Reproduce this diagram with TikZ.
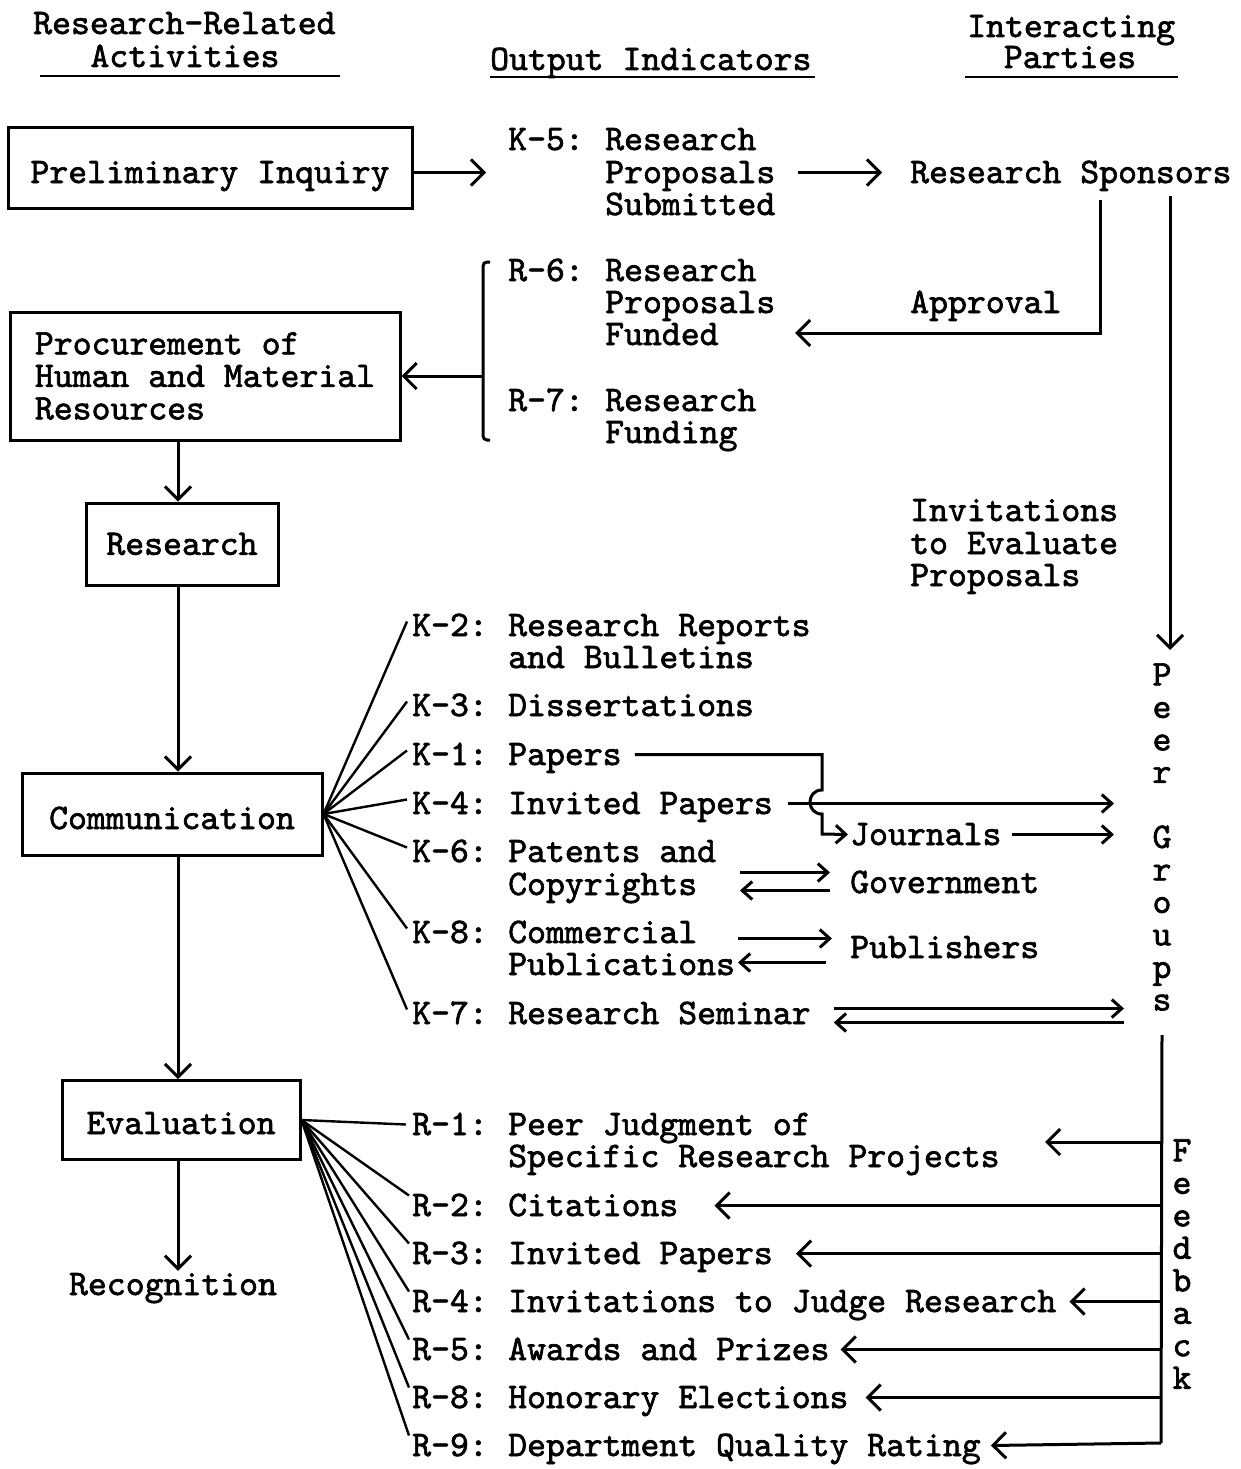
\documentclass[tikz,border=0pt]{standalone}
\usepackage{fontspec}
\newfontfamily\twfont{lmmono10-regular.otf}[FakeBold=1.8]
\usetikzlibrary{arrows.meta}
\tikzset{
  tw/.style={font=\twfont\fontsize{36}{32.5}\selectfont},
  txt/.style={tw, inner sep=0pt, anchor=base west, text height=24pt, text depth=3pt},
  box/.style={tw, draw, line width=3pt, inner sep=0pt, align=left},
  ln/.style={line width=3pt},
  arr/.style={ln, -{Straight Barb[length=13pt,width=26pt]}},
  sarr/.style={ln, -{Straight Barb[length=10pt,width=18pt]}},
  fan/.style={line width=2.4pt},
  uline/.style={line width=2.6pt}
}
\begin{document}
\begin{tikzpicture}[x=1pt,y=-1pt]
\fill[white] (0,0) rectangle (1241,1469);
\useasboundingbox (0,0) rectangle (1241,1469);

% headers
\node[txt] (h1a) at (33,34) {Research-Related};
\node[txt, anchor=base] (h1b) at (185,67) {Activities};
\node[txt] (h2) at (490,70) {Output Indicators};
\node[txt] (h3a) at (967,37) {Interacting};
\node[txt, anchor=base] (h3b) at (1070,68) {Parties};
\draw[uline] (40,76) -- (340,76);
\draw[uline] (490,77) -- (815,77);
\draw[uline] (965,77) -- (1178,77);

% left column boxes
\node[box, minimum width=404pt, minimum height=80pt, text height=32pt, text depth=2pt] (prelim) at (210,168) {Preliminary Inquiry};
\node[box, minimum width=390pt, minimum height=128pt] (proc) at (205,376) {Procurement of\\Human and Material\\Resources};
\node[box, minimum width=192pt, minimum height=82pt] (research) at (182,544) {Research};
\node[box, minimum width=300pt, minimum height=82pt, text height=32pt, text depth=2pt] (comm) at (172,814) {Communication};
\node[box, minimum width=238pt, minimum height=79pt, text height=30pt, text depth=2pt] (eval) at (181,1120) {Evaluation};
\node[txt, anchor=base] (recog) at (173,1295) {Recognition};

\coordinate (sp) at (178,0);
\draw[arr] (proc.south -| sp) -- (research.north -| sp);
\draw[arr] (research.south -| sp) -- (comm.north -| sp);
\draw[arr] (comm.south -| sp) -- (eval.north -| sp);
\draw[arr] (eval.south -| sp) -- (recog.north -| sp);

% K-5
\node[txt] (k5) at (508,150) {K-5:};
\node[txt] (k5a) at (605,150) {Research};
\node[txt] (k5b) at (605,183) {Proposals};
\node[txt] (k5c) at (605,215) {Submitted};
\node[txt] (spons) at (910,183) {Research Sponsors};
\draw[arr] (prelim.east |- k5b.west) -- ([xshift=-22pt]k5.west |- k5b.west);
\draw[arr] ([xshift=22pt]k5b.east) -- ([xshift=-28pt]spons.west);

% R-6, R-7
\node[txt] (r6) at (508,281) {R-6:};
\node[txt] (r6a) at (605,281) {Research};
\node[txt] (r6b) at (605,313) {Proposals};
\node[txt] (r6c) at (605,345) {Funded};
\node[txt] (r7) at (508,411) {R-7:};
\node[txt] (r7a) at (605,411) {Research};
\node[txt] (r7b) at (605,443) {Funding};
\node[txt] (appr) at (910,313) {Approval};

\coordinate (aptop) at (1100,200);
\coordinate (apcorner) at (1100,333);
\coordinate (aptip) at (795,333);
\draw[arr] (aptop) -- (apcorner) -- (aptip);

\coordinate (brtop) at (483,262);
\coordinate (brbot) at (483,440);
\coordinate (brmid) at (483,376);
\draw[ln, rounded corners=4pt] ([xshift=7pt]brtop) -- (brtop) -- (brbot) -- ([xshift=7pt]brbot);
\draw[arr] (brmid) -- (proc.east);

% invitations + peer groups
\node[txt] (inv1) at (910,521) {Invitations};
\node[txt] (inv2) at (910,554) {to Evaluate};
\node[txt] (inv3) at (910,586) {Proposals};
\node[tw, align=center, inner sep=0pt] (peer) at (1162,837) {P\\e\\e\\r\\[32.5pt]G\\r\\o\\u\\p\\s};
\coordinate (pgtop) at (1170,196);
\draw[arr] (pgtop) -- (pgtop |- 0,650);

% K items
\node[txt] (k2) at (412,636) {K-2:};
\node[txt] (k2a) at (508,636) {Research Reports};
\node[txt] (k2b) at (508,668) {and Bulletins};
\node[txt] (k3) at (412,716) {K-3:};
\node[txt] (k3a) at (508,716) {Dissertations};
\node[txt] (k1) at (412,765) {K-1:};
\node[txt] (k1a) at (508,765) {Papers};
\node[txt] (k4) at (412,814) {K-4:};
\node[txt] (k4a) at (508,814) {Invited Papers};
\node[txt] (k6) at (412,862) {K-6:};
\node[txt] (k6a) at (508,862) {Patents and};
\node[txt] (k6b) at (508,895) {Copyrights};
\node[txt] (k8) at (412,943) {K-8:};
\node[txt] (k8a) at (508,943) {Commercial};
\node[txt] (k8b) at (508,975) {Publications};
\node[txt] (k7) at (412,1024) {K-7:};
\node[txt] (k7a) at (508,1024) {Research Seminar};

\node[txt] (jour) at (850,845) {Journals};
\node[txt] (gov) at (850,893) {Government};
\node[txt] (pub) at (850,958) {Publishers};

\foreach \k in {k2,k3,k1,k4,k6,k8,k7}
  \draw[fan] (comm.east) -- ([xshift=-5pt,yshift=4pt]\k.west);

% papers / journals
\coordinate (pgl) at (1114,0);
\coordinate (jb1) at (822,790);
\coordinate (jb2) at (822,814);
\coordinate (jb3) at (822,834);
\draw[sarr] ([xshift=13pt]k1a.east) -| (jb1) .. controls (806,790) and (806,814) .. (jb2) -- (jb3) -- ([xshift=-2pt]jour.west);
\draw[sarr] ([xshift=15pt]k4a.east) -- (k4a.east -| pgl);
\draw[sarr] ([xshift=10pt]jour.east) -- (jour.east -| pgl);

% government
\draw[sarr] ([xshift=-110pt,yshift=10pt]gov.west) -- ([xshift=-20pt,yshift=10pt]gov.west);
\draw[sarr] ([xshift=-20pt,yshift=-8pt]gov.west) -- ([xshift=-110pt,yshift=-8pt]gov.west);
% publishers
\draw[sarr] ([xshift=-112pt,yshift=9pt]pub.west) -- ([xshift=-18pt,yshift=9pt]pub.west);
\draw[sarr] ([xshift=-24pt,yshift=-15pt]pub.west) -- ([xshift=-112pt,yshift=-15pt]pub.west);
% seminar
\coordinate (sr) at (1124,0);
\draw[sarr] ([xshift=23pt,yshift=5pt]k7a.east) -- ([yshift=5pt]k7a.east -| sr);
\draw[sarr] ([yshift=-9pt]k7a.east -| sr) -- ([xshift=23pt,yshift=-9pt]k7a.east);

% R items
\node[txt] (r1) at (412,1135) {R-1:};
\node[txt] (r1a) at (508,1135) {Peer Judgment of};
\node[txt] (r1b) at (508,1167) {Specific Research Projects};
\node[txt] (r2) at (412,1216) {R-2:};
\node[txt] (r2a) at (508,1216) {Citations};
\node[txt] (r3) at (412,1264) {R-3:};
\node[txt] (r3a) at (508,1264) {Invited Papers};
\node[txt] (r4) at (412,1312) {R-4:};
\node[txt] (r4a) at (508,1312) {Invitations to Judge Research};
\node[txt] (r5) at (412,1360) {R-5:};
\node[txt] (r5a) at (508,1360) {Awards and Prizes};
\node[txt] (r8) at (412,1408) {R-8:};
\node[txt] (r8a) at (508,1408) {Honorary Elections};
\node[txt] (r9) at (412,1456) {R-9:};
\node[txt] (r9a) at (508,1456) {Department Quality Rating};

\draw[fan] (eval.east) -- ([xshift=-6pt]r1.west);
\foreach \r in {r2,r3,r4,r5,r8,r9}
  \draw[fan] (eval.east) -- ([xshift=-3pt,yshift=10pt]\r.west);

% feedback
\node[tw, align=center, inner sep=0pt] (fb) at (1182,1264) {F\\e\\e\\d\\b\\a\\c\\k};
\coordinate (fbtop) at (1162,1035);
\coordinate (fbbot) at (1161,1443);
\coordinate (fbx) at (1162,0);
\draw[ln] (fbtop) -- (fbbot);
\coordinate (r1tip) at (1045,1142);
\draw[arr] (fbx |- r1tip) -- (r1tip);
\draw[arr] (fbx |- r2a.east) -- ([xshift=36pt]r2a.east);
\draw[arr] (fbx |- r3a.east) -- ([xshift=23pt]r3a.east);
\draw[arr] (fbx |- r4a.east) -- ([xshift=13pt]r4a.east);
\draw[arr] (fbx |- r5a.east) -- ([xshift=11pt]r5a.east);
\draw[arr] (fbx |- r8a.east) -- ([xshift=17pt]r8a.east);
\draw[arr] (fbbot) -- ([xshift=10pt]r9a.east);
\end{tikzpicture}
\end{document}
